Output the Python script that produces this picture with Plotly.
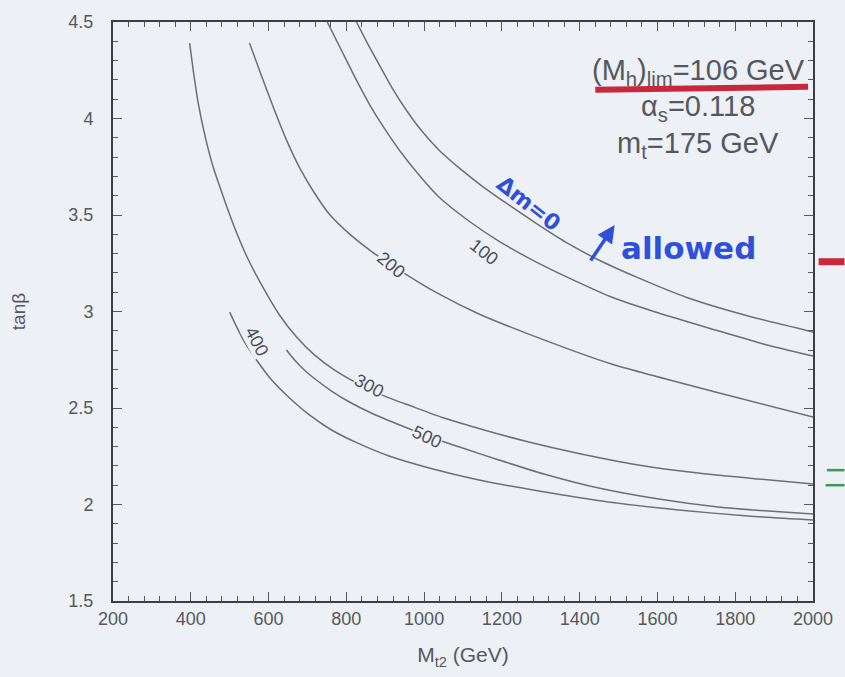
import plotly.graph_objects as go

# Contours of constant stop mass splitting Delta m (GeV) in the (M_t2, tan beta) plane
dm0_M = [826, 854, 885, 918, 954, 992, 1038, 1090, 1149, 1218, 1295, 1372, 1449, 1551, 1679, 1833, 2000]
dm0_t = [4.500, 4.391, 4.277, 4.158, 4.044, 3.940, 3.837, 3.744, 3.650, 3.552, 3.448, 3.350,
         3.267, 3.174, 3.070, 2.977, 2.894]

dm100_M = [751, 787, 823, 859, 897, 936, 987, 1038, 1115, 1192, 1269, 1372, 1482, 1603, 1749, 1872, 2000]
dm100_t = [4.500, 4.355, 4.210, 4.075, 3.951, 3.837, 3.707, 3.593, 3.469, 3.365, 3.277, 3.174,
           3.075, 2.992, 2.904, 2.832, 2.769]

dm200_M = [551, 582, 615, 646, 680, 718, 756, 808, 867, 936, 1038, 1141, 1269, 1482, 1749, 2000]
dm200_t = [4.391, 4.220, 4.044, 3.889, 3.744, 3.614, 3.505, 3.402, 3.308, 3.215, 3.091, 2.987,
           2.883, 2.728, 2.583, 2.453]

dm300_M = [397, 408, 420, 436, 456, 482, 513, 546, 585, 628, 672, 718, 769, 826, 892, 967,
           1051, 1154, 1269, 1392, 1551, 1705, 1859, 2000]
dm300_t = [4.391, 4.225, 4.070, 3.915, 3.759, 3.604, 3.433, 3.277, 3.127, 2.982, 2.868, 2.775,
           2.697, 2.630, 2.567, 2.510, 2.448, 2.386, 2.324, 2.267, 2.205, 2.163, 2.132, 2.106]

dm400_M = [500, 518, 538, 569, 608, 654, 705, 762, 828, 910, 1013, 1141, 1295, 1474, 1654, 1833, 2000]
dm400_t = [2.997, 2.920, 2.842, 2.749, 2.645, 2.552, 2.464, 2.386, 2.319, 2.251, 2.189, 2.127,
           2.070, 2.013, 1.972, 1.940, 1.920]

dm500_M = [646, 667, 692, 723, 762, 808, 864, 931, 1008, 1095, 1192, 1308, 1449, 1603, 1756, 1885, 2000]
dm500_t = [2.801, 2.749, 2.697, 2.645, 2.588, 2.531, 2.474, 2.417, 2.355, 2.295, 2.231, 2.158,
           2.085, 2.028, 1.987, 1.966, 1.951]

# contour label text, position (M, tan beta) and rotation
label_text = ["100", "200", "300", "400", "500"]
label_M = [1154, 915, 859, 569, 1008]
label_t = [3.308, 3.241, 2.614, 2.847, 2.350]
label_angle = [38, 40, 28, 62, 25]

x_ticks = [200, 400, 600, 800, 1000, 1200, 1400, 1600, 1800, 2000]
y_ticks = [1.5, 2, 2.5, 3, 3.5, 4, 4.5]

BG = "#edf0f4"
INK = "#55595f"
LINE = "#6c7076"
BLUE = "#2f50d8"
RED = "#c8283c"
GREEN = "#3a9a5a"
FONT = "Liberation Sans, Arial, sans-serif"
HAND = "DejaVu Sans, sans-serif"

fig = go.Figure()
for xs, ys in [(dm0_M, dm0_t), (dm100_M, dm100_t), (dm200_M, dm200_t),
               (dm300_M, dm300_t), (dm400_M, dm400_t), (dm500_M, dm500_t)]:
    fig.add_trace(go.Scatter(x=xs, y=ys, mode="lines",
                             line=dict(color=LINE, width=1.5, shape="spline", smoothing=0.6),
                             hoverinfo="skip", showlegend=False))

annotations = []
for txt, mx, ty, ang in zip(label_text, label_M, label_t, label_angle):
    annotations.append(dict(x=mx, y=ty, xref="x", yref="y", text=txt, showarrow=False,
                            textangle=ang, bgcolor=BG, borderpad=0,
                            font=dict(family=FONT, size=18, color="#4a4e54")))

# parameter block
params = ["(M<sub>h</sub>)<sub>lim</sub>=106 GeV", "α<sub>s</sub>=0.118", "m<sub>t</sub>=175 GeV"]
param_y = [0.914, 0.852, 0.787]
for txt, py in zip(params, param_y):
    annotations.append(dict(x=0.836, y=py, xref="paper", yref="paper", text=txt,
                            showarrow=False, xanchor="center", yanchor="middle",
                            font=dict(family=FONT, size=29, color=INK)))

# hand-written notes
annotations.append(dict(x=1269, y=3.562, xref="x", yref="y", text="<b>Δm=0</b>", showarrow=False,
                        textangle=38, font=dict(family=HAND, size=22, color=BLUE)))
annotations.append(dict(x=1680, y=3.329, xref="x", yref="y", text="<b>allowed</b>", showarrow=False,
                        font=dict(family=HAND, size=31, color=BLUE)))
annotations.append(dict(x=1490, y=3.448, xref="x", yref="y", text="", showarrow=True,
                        ax=-25, ay=37, arrowhead=2, arrowsize=1, arrowwidth=3.5, arrowcolor=BLUE))

fig.update_layout(
    width=845, height=677,
    margin=dict(l=113, r=30, t=22, b=76),
    paper_bgcolor=BG, plot_bgcolor=BG,
    font=dict(family=FONT, color=INK),
    annotations=annotations,
)

# red underline below the first parameter line and pen marks in the right margin
fig.add_shape(type="line", xref="paper", yref="paper", x0=0.689, y0=0.883, x1=0.993, y1=0.888,
              line=dict(color=RED, width=6))
fig.add_shape(type="line", xref="paper", yref="paper", x0=1.008, y0=0.586, x1=1.045, y1=0.586,
              line=dict(color=RED, width=7))
fig.add_shape(type="line", xref="paper", yref="paper", x0=1.02, y0=0.226, x1=1.045, y1=0.226,
              line=dict(color=GREEN, width=2.5))
fig.add_shape(type="line", xref="paper", yref="paper", x0=1.018, y0=0.200, x1=1.045, y1=0.200,
              line=dict(color=GREEN, width=2.5))

fig.update_xaxes(range=[200, 2000], tickvals=x_ticks, ticks="inside", ticklen=9, tickwidth=1.2,
                 tickcolor=INK, showline=True, linecolor="#3c3f44", linewidth=2, mirror="allticks",
                 showgrid=False, zeroline=False,
                 minor=dict(ticks="inside", ticklen=5, dtick=40, tickcolor=INK, showgrid=False),
                 tickfont=dict(family=FONT, size=18, color=INK),
                 title=dict(text="M<sub>t2</sub> (GeV)", font=dict(family=FONT, size=21, color=INK), standoff=20))
fig.update_yaxes(range=[1.5, 4.5], tickvals=y_ticks, ticks="inside", ticklen=9, tickwidth=1.2,
                 tickcolor=INK, showline=True, linecolor="#3c3f44", linewidth=2, mirror="allticks",
                 showgrid=False, zeroline=False,
                 minor=dict(ticks="inside", ticklen=5, dtick=0.1, tickcolor=INK, showgrid=False),
                 tickfont=dict(family=FONT, size=18, color=INK), ticklabelstandoff=14,
                 title=dict(text="tanβ", font=dict(family=FONT, size=19, color=INK), standoff=38))

fig.write_html("out.html")
